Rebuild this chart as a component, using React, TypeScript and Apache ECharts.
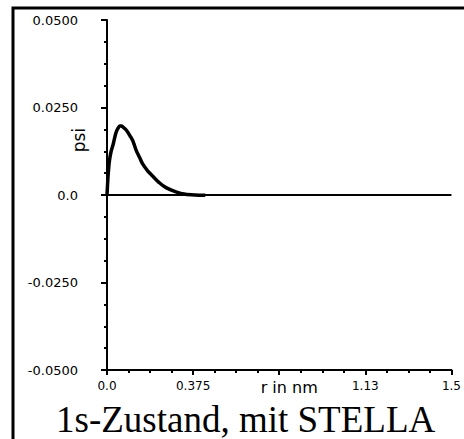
import React, { useEffect, useRef } from "react";
import * as echarts from "echarts";

const rValues = [0, 0.004, 0.01, 0.018, 0.027, 0.035, 0.042, 0.05, 0.056, 0.063, 0.07, 0.08, 0.092, 0.102, 0.113, 0.128, 0.142, 0.156, 0.177, 0.199, 0.228, 0.257, 0.3, 0.342, 0.385, 0.428];
const psiValues = [0, 0.0048, 0.0095, 0.0125, 0.0145, 0.0168, 0.0183, 0.0193, 0.0197, 0.0197, 0.0194, 0.0188, 0.0178, 0.0167, 0.0154, 0.0126, 0.0107, 0.0088, 0.0069, 0.0054, 0.0035, 0.0021, 0.0009, 0.0002, 0.0, -0.0001];

const yTickValues = [-0.05, -0.025, 0, 0.025, 0.05];
const yTickLabels = ["-0.0500", "-0.0250", "0.0", "0.0250", "0.0500"];
const xTickValues = [0, 0.375, 0.75, 1.125, 1.5];
const xTickLabels = ["0.0", "0.375", "", "1.13", "1.5"];

const titleText = "1s-Zustand, mit STELLA";
const xName = "r in nm";
const yName = "psi";

function lookup(vals: number[], labels: string[], v: number) {
  for (let i = 0; i < vals.length; i++) {
    if (Math.abs(vals[i] - v) < 1e-6) return labels[i];
  }
  return "";
}

export default function App() {
  const ref = useRef<HTMLDivElement>(null);
  useEffect(() => {
    if (!ref.current) return;
    const chart = echarts.init(ref.current, null, { renderer: "svg" });
    const data = rValues.map((r, i) => [r, psiValues[i]]);
    chart.setOption({
      animation: false,
      backgroundColor: "#ffffff",
      title: {
        text: titleText,
        left: 56,
        top: 401,
        padding: 0,
        textStyle: {
          fontFamily: "Liberation Serif",
          fontSize: 37,
          fontWeight: "normal",
          color: "#000",
        },
      },
      grid: { left: 107, right: 8, top: 20, bottom: 69, containLabel: false },
      xAxis: {
        type: "value",
        min: 0,
        max: 1.5,
        interval: 0.375,
        name: xName,
        nameLocation: "middle",
        nameGap: 9,
        nameMoveOverlap: false,
        nameTextStyle: { fontFamily: "DejaVu Sans", fontSize: 16, lineHeight: 16, color: "#000", padding: [0, 0, 0, 20] },
        axisLine: { onZero: false, lineStyle: { color: "#000", width: 2 } },
        axisTick: { show: true, inside: false, length: 5, lineStyle: { color: "#000", width: 2 } },
        minorTick: { show: true, splitNumber: 4, length: 3, lineStyle: { color: "#000", width: 2 } },
        splitLine: { show: false },
        axisLabel: {
          margin: 10,
          fontFamily: "DejaVu Sans",
          fontSize: 12,
          color: "#000",
          formatter: (v: number) => lookup(xTickValues, xTickLabels, v),
        },
      },
      yAxis: {
        type: "value",
        min: -0.05,
        max: 0.05,
        interval: 0.025,
        axisLine: { show: true, onZero: false, lineStyle: { color: "#000", width: 2 } },
        axisTick: { show: true, inside: false, length: 6, lineStyle: { color: "#000", width: 2 } },
        minorTick: { show: true, splitNumber: 4, length: 3, lineStyle: { color: "#000", width: 2 } },
        splitLine: { show: false },
        axisLabel: {
          margin: 29,
          fontFamily: "DejaVu Sans",
          fontSize: 13,
          color: "#000",
          formatter: (v: number) => lookup(yTickValues, yTickLabels, v),
        },
      },
      graphic: [
        {
          type: "rect",
          shape: { x: 13, y: 8, width: 500, height: 480 },
          style: { fill: "none", stroke: "#000", lineWidth: 3 },
          silent: true,
        },
        {
          type: "text",
          x: 79,
          y: 140,
          rotation: Math.PI / 2,
          style: {
            text: yName,
            fontFamily: "DejaVu Sans",
            fontSize: 17,
            fill: "#000",
            align: "center",
            verticalAlign: "middle",
          },
        },
      ],
      series: [
        {
          type: "line",
          data,
          showSymbol: false,
          smooth: 0.2,
          lineStyle: { color: "#000", width: 3.5 },
          markLine: {
            silent: true,
            symbol: "none",
            label: { show: false },
            lineStyle: { color: "#000", width: 2, type: "solid" },
            data: [{ yAxis: 0 }],
          },
        },
      ],
    });
    return () => chart.dispose();
  }, []);
  return <div ref={ref} style={{ position: "fixed", left: 0, top: 0, width: 464, height: 439 }} />;
}
